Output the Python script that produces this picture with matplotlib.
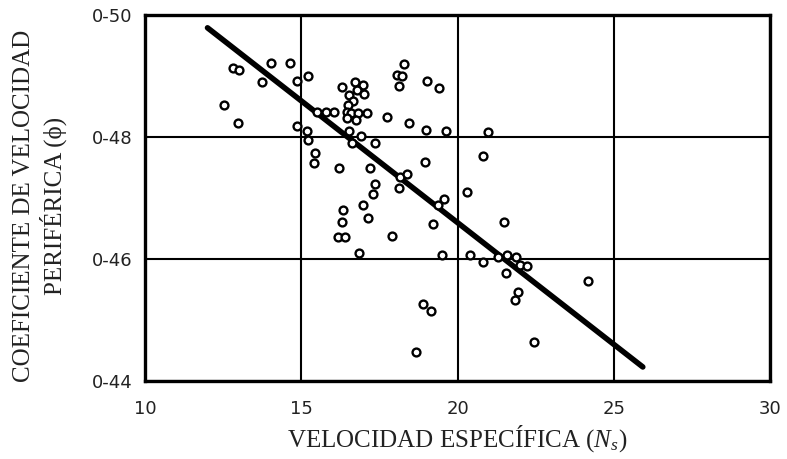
import matplotlib
matplotlib.use("Agg")
import matplotlib.pyplot as plt

# Data
ns = [12.53, 12.81, 13.01, 12.97, 13.74, 14.03, 14.64, 14.86, 15.21, 14.86,
      15.18, 15.21, 15.50, 15.79, 16.04, 15.44, 15.40, 16.20, 16.30, 16.72,
      16.97, 16.78, 16.52, 17.00, 16.65, 16.49, 16.46, 16.59, 16.81, 17.10,
      16.46, 16.75, 16.52, 16.91, 16.62, 17.36, 17.74, 18.28, 18.06, 18.22,
      18.12, 19.02, 19.40, 18.44, 18.99, 19.63, 17.20, 18.95, 18.15, 18.38,
      18.12, 17.36, 17.29, 16.97, 17.13, 16.33, 16.30, 16.17, 16.40, 17.90,
      16.84, 19.56, 19.37, 19.21, 19.50, 20.30, 20.39, 20.81, 21.29, 21.58,
      21.86, 21.99, 22.22, 21.54, 21.93, 21.83, 22.44, 24.17, 18.89, 19.15,
      18.67, 20.81, 20.97, 21.48]
phi = [0.4852, 0.4913, 0.4910, 0.4823, 0.4890, 0.4921, 0.4921, 0.4892, 0.4900, 0.4818,
       0.4810, 0.4795, 0.4841, 0.4841, 0.4841, 0.4774, 0.4757, 0.4749, 0.4882, 0.4890,
       0.4885, 0.4877, 0.4869, 0.4870, 0.4859, 0.4852, 0.4841, 0.4839, 0.4839, 0.4839,
       0.4831, 0.4828, 0.4810, 0.4802, 0.4790, 0.4790, 0.4833, 0.4920, 0.4902, 0.4900,
       0.4884, 0.4892, 0.4880, 0.4823, 0.4811, 0.4810, 0.4749, 0.4759, 0.4734, 0.4739,
       0.4716, 0.4723, 0.4707, 0.4689, 0.4667, 0.4680, 0.4661, 0.4636, 0.4636, 0.4638,
       0.4610, 0.4698, 0.4689, 0.4657, 0.4607, 0.4710, 0.4607, 0.4595, 0.4603, 0.4607,
       0.4603, 0.4590, 0.4589, 0.4577, 0.4546, 0.4533, 0.4464, 0.4564, 0.4526, 0.4515,
       0.4448, 0.4769, 0.4808, 0.4661]

fit_x = [12.0, 25.93]
fit_y = [0.4979, 0.4423]

x_ticks = [10, 15, 20, 25, 30]
y_ticks = [0.44, 0.46, 0.48, 0.50]
y_tick_labels = ["0-44", "0-46", "0-48", "0-50"]

x_label = "VELOCIDAD ESPECÍFICA ($N_s$)"
y_label = "COEFICIENTE DE VELOCIDAD\nPERIFÉRICA (ϕ)"

plt.rcParams['mathtext.fontset'] = 'custom'
plt.rcParams['mathtext.rm'] = 'Liberation Serif'
plt.rcParams['mathtext.it'] = 'Liberation Serif:italic'

fig = plt.figure(figsize=(7.87, 4.59), dpi=100)
ax = fig.add_axes([145/787, 1 - 381/459, (770-145)/787, (381-15)/459])

ax.plot(fit_x, fit_y, color='black', lw=4, solid_capstyle='round', zorder=3)
ax.scatter(ns, phi, s=32, facecolors='white', edgecolors='black', linewidths=1.7, zorder=4)

ax.set_xlim(10, 30)
ax.set_ylim(0.44, 0.50)
ax.set_xticks(x_ticks)
ax.set_yticks(y_ticks)
ax.set_yticklabels(y_tick_labels)
ax.grid(True, color='black', lw=1.5, zorder=1)
ax.set_axisbelow(True)
ax.tick_params(length=0, labelsize=13, colors='#222222')
ax.tick_params(axis='y', pad=9)
ax.tick_params(axis='x', pad=14)
for s in ax.spines.values():
    s.set_linewidth(2.4)
    s.set_color('black')

serif = ['Liberation Serif', 'DejaVu Serif']
ax.set_xlabel(x_label, family=serif, fontsize=18, color='#222222')
ax.xaxis.set_label_coords(0.5, -0.115)
ax.set_ylabel(y_label, family=serif, fontsize=18, color='#222222',
              va='center', ha='center', linespacing=1.25)
ax.yaxis.set_label_coords(-0.168, 0.478)

fig.savefig("out.png", dpi=100)
